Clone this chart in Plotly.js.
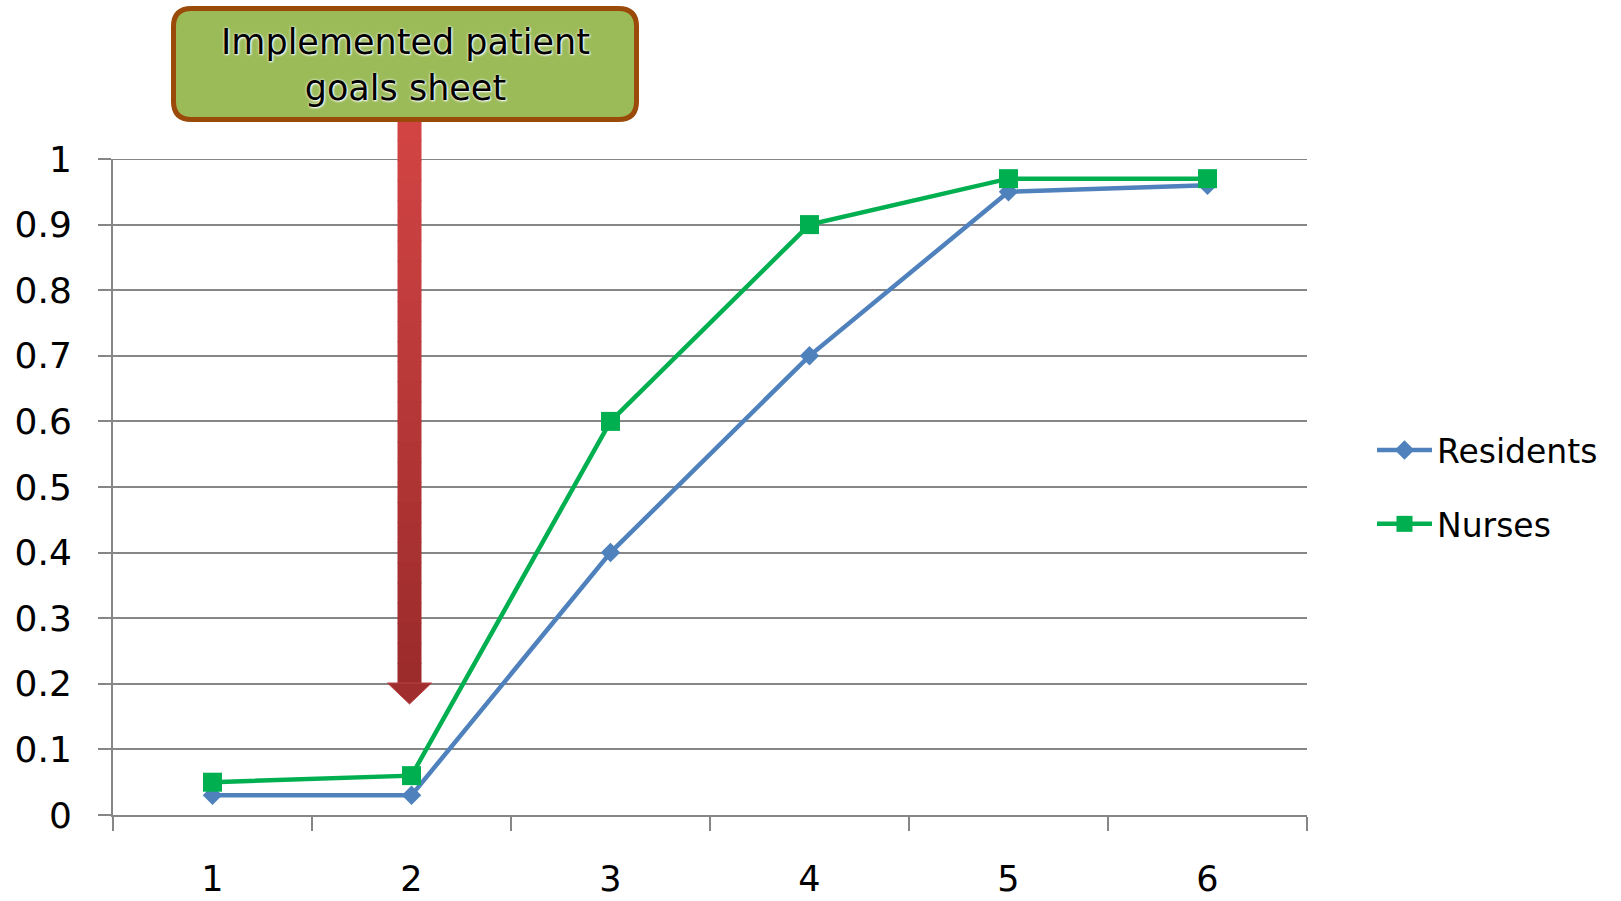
<!DOCTYPE html>
<html>
<head>
<meta charset="utf-8">
<script src="https://cdn.plot.ly/plotly-3.0.1.min.js"></script>
<style>html,body{margin:0;padding:0;background:#fff;}#chart{width:1621px;height:901px;}</style>
</head>
<body>
<div id="chart"></div>
<script>
// ---- data ----
const categories = ["1", "2", "3", "4", "5", "6"];
const residents = [0.03, 0.03, 0.40, 0.70, 0.95, 0.96];
const nurses = [0.05, 0.06, 0.60, 0.90, 0.97, 0.97];
const seriesNames = ["Residents", "Nurses"];
const yTickVals = [0, 0.1, 0.2, 0.3, 0.4, 0.5, 0.6, 0.7, 0.8, 0.9, 1];
const yTickText = ["0", "0.1", "0.2", "0.3", "0.4", "0.5", "0.6", "0.7", "0.8", "0.9", "1"];
const calloutText = "Implemented patient<br>goals sheet";
const calloutCategory = "2";

// ---- layout geometry (pixels) ----
const W = 1621, H = 901;
const M = {l: 113, r: 314, t: 159, b: 86};
const PW = W - M.l - M.r, PH = H - M.t - M.b;
const px = v => (v - M.l) / PW;           // pixel x -> paper
const py = v => (H - M.b - v) / PH;       // pixel y -> paper
const FONT = "DejaVu Sans, Lato, sans-serif";
const grid = "#868686";

function roundRect(x0, y0, x1, y1, r) {
  const f = (x, y) => px(x).toFixed(5) + "," + py(y).toFixed(5);
  return "M" + f(x0 + r, y0) + " L" + f(x1 - r, y0) + " Q" + f(x1, y0) + " " + f(x1, y0 + r) +
    " L" + f(x1, y1 - r) + " Q" + f(x1, y1) + " " + f(x1 - r, y1) +
    " L" + f(x0 + r, y1) + " Q" + f(x0, y1) + " " + f(x0, y1 - r) +
    " L" + f(x0, y0 + r) + " Q" + f(x0, y0) + " " + f(x0 + r, y0) + " Z";
}
function lerpColor(a, b, t) {
  const pa = [1,3,5].map(i => parseInt(a.substr(i,2),16));
  const pb = [1,3,5].map(i => parseInt(b.substr(i,2),16));
  return "rgb(" + pa.map((v,i) => Math.round(v + (pb[i]-v)*t)).join(",") + ")";
}

const shapes = [];
// top gridline (Plotly omits the gridline on the plot edge)
shapes.push({type: "line", xref: "paper", yref: "y", x0: 0, x1: 1,
  y0: yTickVals[yTickVals.length - 1], y1: yTickVals[yTickVals.length - 1],
  layer: "below", line: {color: grid, width: 2}});

// arrow from callout box to category position
const ci = categories.indexOf(calloutCategory);
const arrowCx = M.l + PW * (ci + 0.5) / categories.length - 2;
const shaftTop = 120, shaftBot = 683, shaftHalf = 12, headHalf = 22, tipY = 704;
const N = 28;
for (let i = 0; i < N; i++) {
  const y0 = shaftTop + (shaftBot - shaftTop) * i / N;
  const y1 = shaftTop + (shaftBot - shaftTop) * (i + 1) / N + 0.8;
  shapes.push({type: "rect", xref: "paper", yref: "paper", layer: "above",
    x0: px(arrowCx - shaftHalf), x1: px(arrowCx + shaftHalf), y0: py(y1), y1: py(y0),
    fillcolor: lerpColor("#D24444", "#9C2B2B", i / (N - 1)), line: {width: 0}});
}
shapes.push({type: "path", xref: "paper", yref: "paper", layer: "above",
  path: "M" + px(arrowCx - headHalf) + "," + py(shaftBot) + " L" + px(arrowCx + headHalf) + "," + py(shaftBot) +
        " L" + px(arrowCx) + "," + py(tipY) + " Z",
  fillcolor: "#A02E2E", line: {color: "#B84040", width: 1}});
// callout box
shapes.push({type: "path", xref: "paper", yref: "paper", layer: "above",
  path: roundRect(173.5, 8.5, 636.5, 119.5, 18),
  fillcolor: "#9BBB59", line: {color: "#9A4A09", width: 5}});

const traces = [
  {x: categories, y: residents, name: seriesNames[0], type: "scatter", mode: "lines+markers",
   legendgroup: "a",
   line: {color: "#4F81BD", width: 4.5}, marker: {symbol: "diamond", size: 15, color: "#4F81BD"}},
  {x: categories, y: nurses, name: seriesNames[1], type: "scatter", mode: "lines+markers",
   legendgroup: "b",
   line: {color: "#00B050", width: 4.5}, marker: {symbol: "square", size: 19, color: "#00B050"}}
];

const layout = {
  width: W, height: H,
  margin: M,
  paper_bgcolor: "#ffffff", plot_bgcolor: "#ffffff",
  font: {family: FONT, color: "#000000"},
  showlegend: true,
  legend: {x: px(1372), xanchor: "left", y: 0.5, yanchor: "middle",
    font: {family: FONT, size: 33, color: "#000"}, itemwidth: 55,
    traceorder: "grouped", tracegroupgap: 28, bgcolor: "rgba(0,0,0,0)"},
  xaxis: {type: "category", range: [-0.5, 5.5], tickson: "boundaries",
    ticks: "outside", ticklen: 14, tickwidth: 2, tickcolor: grid,
    showline: true, linecolor: grid, linewidth: 2, showgrid: false, zeroline: false,
    tickfont: {family: FONT, size: 35, color: "#000"}, ticklabelstandoff: 32, fixedrange: true},
  yaxis: {range: [0, 1], tickvals: yTickVals, ticktext: yTickText,
    ticks: "outside", ticklen: 13, tickwidth: 2, tickcolor: grid,
    showline: true, linecolor: grid, linewidth: 2, showgrid: true, gridcolor: grid, gridwidth: 2,
    zeroline: false, tickfont: {family: FONT, size: 36, color: "#000"}, ticklabelstandoff: 19, fixedrange: true},
  shapes: shapes,
  annotations: [{xref: "paper", yref: "paper", x: px(405), y: py(65), xanchor: "center", yanchor: "middle",
    text: calloutText, showarrow: false, align: "center",
    font: {family: FONT, size: 35, color: "#000", shadow: "0px 0px 3px #ffffff, 1px 1px 2px #ffffff"}}]
};

Plotly.newPlot("chart", traces, layout, {displayModeBar: false, staticPlot: true});
</script>
</body>
</html>
